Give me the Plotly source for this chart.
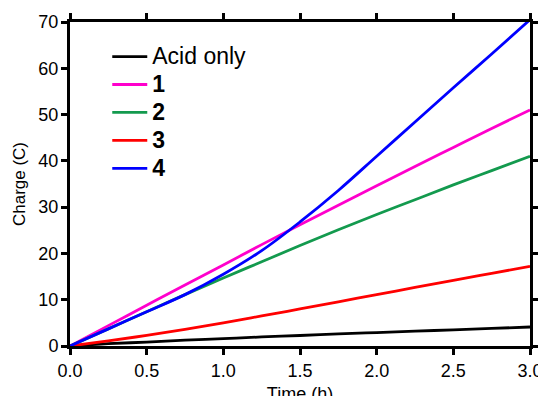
import plotly.graph_objects as go

time_h = [0.0, 0.25, 0.5, 0.75, 1.0, 1.25, 1.5, 1.75, 2.0, 2.25, 2.5, 2.75, 3.0]

acid_only = [0.0, 0.5, 0.85, 1.25, 1.6, 1.95, 2.27, 2.6, 2.9, 3.2, 3.5, 3.8, 4.1]
series_1 = [0.0, 4.4, 8.8, 13.2, 17.5, 21.9, 26.2, 30.4, 34.6, 38.8, 42.9, 47.0, 51.0]
series_2 = [0.0, 3.7, 7.4, 11.1, 14.7, 18.2, 21.7, 25.1, 28.4, 31.6, 34.8, 37.9, 41.0]
series_3 = [0.0, 1.1, 2.3, 3.6, 5.0, 6.5, 8.0, 9.55, 11.1, 12.65, 14.2, 15.7, 17.2]
series_4 = [0.0, 3.7, 7.4, 11.1, 15.5, 20.6, 26.8, 33.6, 41.0, 48.4, 55.8, 63.1, 70.5]

names = ["Acid only", "<b>1</b>", "<b>2</b>", "<b>3</b>", "<b>4</b>"]
colors = ["#000000", "#ff00cc", "#139a4e", "#ff0000", "#0000ff"]
values = [acid_only, series_1, series_2, series_3, series_4]

x_ticks = [0.0, 0.5, 1.0, 1.5, 2.0, 2.5, 3.0]
y_ticks = [0, 10, 20, 30, 40, 50, 60, 70]

fig = go.Figure()
for name, color, vals in zip(names, colors, values):
    fig.add_trace(go.Scatter(x=time_h, y=vals, mode="lines",
                             name=f"<span style='font-size:23px'>{name}</span>",
                             line=dict(color=color, width=2.8, shape="spline", smoothing=1.0)))

font_family = "Arial, Liberation Sans, sans-serif"
axis_common = dict(showline=True, linecolor="black", linewidth=3, mirror="allticks",
                   ticks="outside", ticklen=6, tickwidth=2.5, tickcolor="black",
                   showgrid=False, zeroline=False, automargin=False,
                   tickfont=dict(family=font_family, size=18, color="black"))

fig.update_xaxes(range=[0, 3], tickvals=x_ticks, ticktext=[f"{v:.1f}" for v in x_ticks],
                 ticklabelstandoff=0,
                 title=dict(text="Time (h)", font=dict(family=font_family, size=18, color="black"), standoff=22),
                 **axis_common)
fig.update_yaxes(range=[0, 70], tickvals=y_ticks, ticklabelstandoff=-1,
                 title=dict(text="Charge (C)", font=dict(family=font_family, size=17, color="black"), standoff=9),
                 **axis_common)

# the page has an 8px body margin; the figure is sized so the plot sits where the reference's does
# (its lower edge runs past the window, so the x title is cut off as in the reference)
fig.update_layout(
    width=538, height=396,
    margin=dict(l=61.5, r=15.5, t=13.5, b=57.5),
    plot_bgcolor="white", paper_bgcolor="white",
    font=dict(family=font_family, color="black"),
    legend=dict(x=0.081, y=0.952, xanchor="left", yanchor="top", itemwidth=35,
                font=dict(family=font_family, size=19.2, color="black"),
                bgcolor="rgba(0,0,0,0)", tracegroupgap=0),
    showlegend=True,
)

fig.write_html("out.html")
